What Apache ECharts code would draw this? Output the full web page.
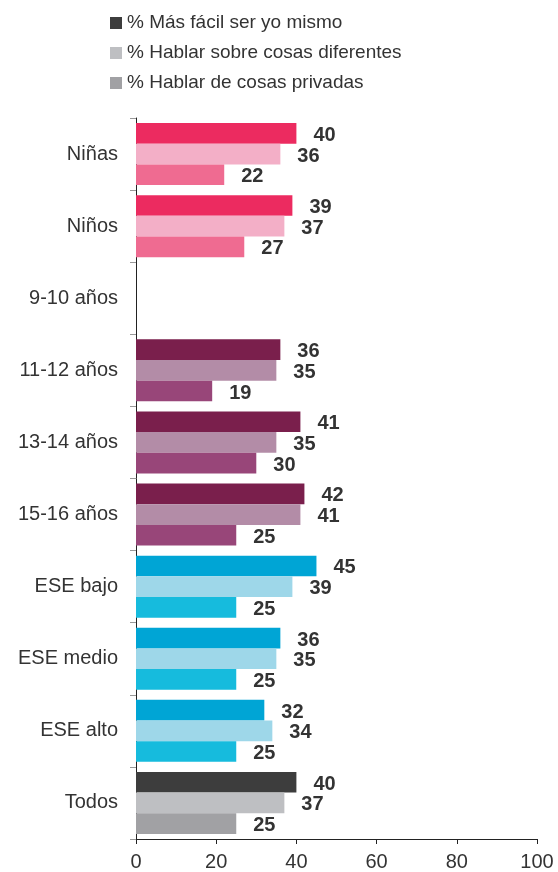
<!DOCTYPE html>
<html>
<head>
<meta charset="utf-8">
<script src="https://cdn.jsdelivr.net/npm/echarts@6/dist/echarts.min.js"></script>
<style>html,body{margin:0;padding:0;background:#fff}#c{width:558px;height:872px}</style>
</head>
<body>
<div id="c"></div>
<script>
const categories = ['Niñas','Niños','9-10 años','11-12 años','13-14 años','15-16 años','ESE bajo','ESE medio','ESE alto','Todos'];
const seriesNames = ['% Más fácil ser yo mismo','% Hablar sobre cosas diferentes','% Hablar de cosas privadas'];
const valuesFacil = [40, 39, null, 36, 41, 42, 45, 36, 32, 40];
const valuesDiferentes = [36, 37, null, 35, 35, 41, 39, 35, 34, 37];
const valuesPrivadas = [22, 27, null, 19, 30, 25, 25, 25, 25, 25];
const xTicks = [0, 20, 40, 60, 80, 100];

// colour group for each category (styling, kept apart from data)
const groupOf = ['pink','pink','purple','purple','purple','purple','blue','blue','blue','gray'];
const palette = {
  pink:   ['#EC2B60', '#F3AFC7', '#EF6B91'],
  purple: ['#7A1F4C', '#B38CA7', '#984679'],
  blue:   ['#00A5D5', '#9ED7E9', '#16BBDD'],
  gray:   ['#3D3D3D', '#BEBFC2', '#A1A1A4']
};
const legendColors = palette.gray;
const FONT = '"Liberation Sans", Arial, sans-serif';

function mkSeries(idx, vals) {
  return {
    name: seriesNames[idx],
    type: 'bar',
    barGap: '0%',
    barCategoryGap: '14%',
    itemStyle: { color: legendColors[idx] },
    data: vals.map((v, i) => v == null ? '-' : { value: v, itemStyle: { color: palette[groupOf[i]][idx] } }),
    label: {
      show: true, position: 'right', distance: 17, offset: [0, 2],
      color: '#333', fontWeight: 'bold', fontSize: 20, fontFamily: FONT
    },
    emphasis: { disabled: true },
    animation: false
  };
}

const chart = echarts.init(document.getElementById('c'));
chart.setOption({
  animation: false,
  legend: {
    orient: 'vertical', left: 110, top: 13, padding: 0,
    itemWidth: 12, itemHeight: 12, itemGap: 10, icon: 'rect',
    textStyle: { color: '#333', fontSize: 19, fontFamily: FONT, lineHeight: 20 },
    data: seriesNames.map((n, i) => ({ name: n, itemStyle: { color: legendColors[i] } }))
  },
  grid: { left: 136, right: 21, top: 118, bottom: 32, containLabel: false },
  xAxis: {
    type: 'value', min: xTicks[0], max: xTicks[xTicks.length - 1], interval: 20,
    axisLine: { show: true, lineStyle: { color: '#222', width: 1 } },
    axisTick: { show: true, length: 5, lineStyle: { color: '#222' } },
    axisLabel: { color: '#333', fontSize: 20, fontFamily: FONT, margin: 13 },
    splitLine: { show: false }
  },
  yAxis: {
    type: 'category', inverse: true, data: categories,
    axisLine: { show: true, lineStyle: { color: '#222', width: 1 } },
    axisTick: { show: true, length: 6, lineStyle: { color: '#999' } },
    axisLabel: { color: '#333', fontSize: 20, fontFamily: FONT, margin: 18 }
  },
  series: [mkSeries(0, valuesFacil), mkSeries(1, valuesDiferentes), mkSeries(2, valuesPrivadas)]
});
</script>
</body>
</html>
